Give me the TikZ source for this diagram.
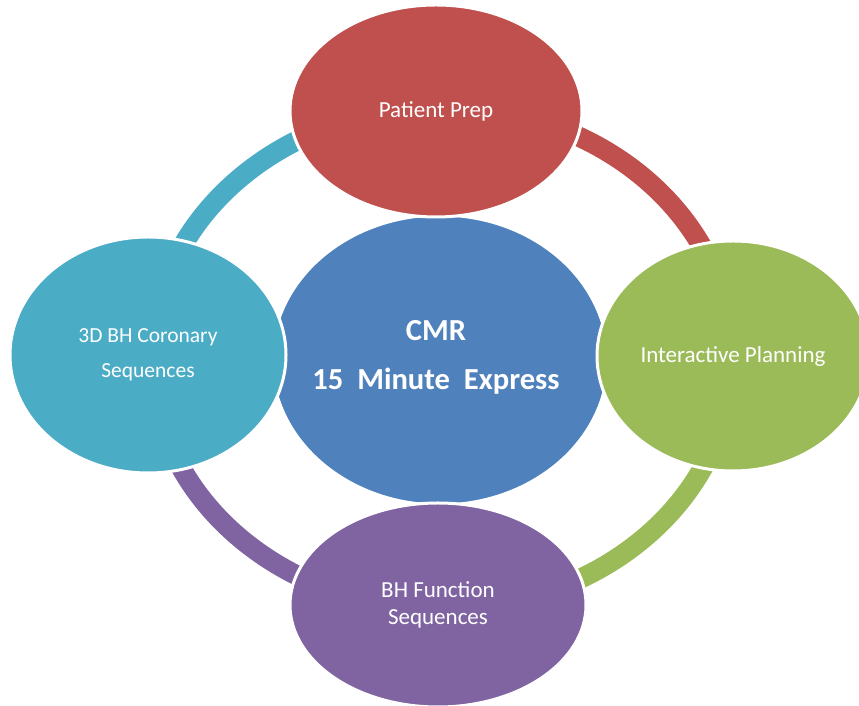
\documentclass[tikz,border=0pt]{standalone}
\usepackage{fontspec}
\setmainfont{Carlito}
\usetikzlibrary{shapes.geometric}
\definecolor{cRed}{HTML}{C0504D}
\definecolor{cBlue}{HTML}{4F81BD}
\definecolor{cCyan}{HTML}{4BACC6}
\definecolor{cGreen}{HTML}{9BBB59}
\definecolor{cPurple}{HTML}{8064A2}
\tikzset{
  blob/.style={ellipse, draw=white, line width=3pt, inner sep=0pt, text=white, align=center},
  smalltext/.style={font=\fontsize{23}{33}\selectfont},
  bigtext/.style={font=\fontsize{30.6}{49}\selectfont\bfseries},
  ringline/.style={line width=20pt, line cap=butt},
}
\begin{document}
\begin{tikzpicture}[x=1pt,y=1pt]
\useasboundingbox (0,0) rectangle (859,706);
\clip (0,0) rectangle (859,706);
\fill[white] (0,0) rectangle (859,706);
\coordinate (ringc) at (442,348);
% ring segments
\draw[ringline, draw=cCyan] ([shift={(90:290pt and 251pt)}]ringc) arc[start angle=90, end angle=180, x radius=290pt, y radius=251pt];
\draw[ringline, draw=cRed] ([shift={(0:290pt and 251pt)}]ringc) arc[start angle=0, end angle=90, x radius=290pt, y radius=251pt];
\draw[ringline, draw=cGreen] ([shift={(270:290pt and 251pt)}]ringc) arc[start angle=270, end angle=360, x radius=290pt, y radius=251pt];
\draw[ringline, draw=cPurple] ([shift={(180:290pt and 251pt)}]ringc) arc[start angle=180, end angle=270, x radius=290pt, y radius=251pt];
% centre
\node[blob, fill=cBlue, minimum width=336pt, minimum height=290pt] (core) at (440,346) {};
\node[text=white, align=center, bigtext] (coretext) at (436,349) {CMR\\15~~Minute~~Express};
% satellites
\node[blob, fill=cRed, minimum width=292pt, minimum height=212pt, smalltext] (prep) at (436,595) {Patient Prep};
\node[blob, fill=cCyan, minimum width=276pt, minimum height=236pt, font=\fontsize{21.5}{35}\selectfont] (coro) at (148,351) {3D BH Coronary\\Sequences};
\node[blob, fill=cGreen, minimum width=272pt, minimum height=230pt, smalltext] (plan) at (733,350) {Interactive Planning};
\node[blob, fill=cPurple, minimum width=296pt, minimum height=204pt, font=\fontsize{23}{27}\selectfont] (func) at (438,101) {BH Function\\Sequences};
\end{tikzpicture}
\end{document}
